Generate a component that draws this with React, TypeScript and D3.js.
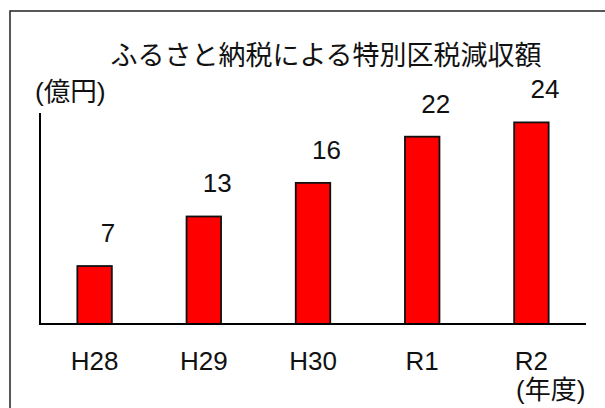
import React from 'react';
import * as d3 from 'd3';

// data
const categories = ['H28', 'H29', 'H30', 'R1', 'R2'];
const values = [6.9, 12.8, 16.8, 22.3, 24.0];
const valueLabels = ['7', '13', '16', '22', '24'];

const title = 'ふるさと納税による特別区税減収額';
const yUnit = '(億円)';
const xUnit = '(年度)';

const W = 605;
const H = 408;
const FONT = '"Liberation Sans", Arial, "Noto Sans CJK JP", sans-serif';

const App = () => {
  const x = d3.scaleBand<string>().domain(categories).range([40, 586]).padding(0);
  const y = d3.scaleLinear().domain([0, 25]).range([324, 114]);
  const barW = 34.5;
  // value labels sit a little right of the bar centre in the original
  const labelShift = 13.5;

  return (
    <svg
      width={W}
      height={H}
      style={{ position: 'absolute', left: 0, top: 0, background: '#fff' }}
      fontFamily={FONT}
    >
      {/* outer frame, runs past the right and bottom edge */}
      <rect x={10} y={11} width={640} height={440} fill="#fff" stroke="#222" strokeWidth={1.5} />

      <text x={326} y={65} textAnchor="middle" fontSize={27} fill="#111">
        {title}
      </text>
      <text x={35} y={101} fontSize={26.5} fill="#111">
        {yUnit}
      </text>

      {categories.map((c, i) => {
        const cx = (x(c) ?? 0) + x.bandwidth() / 2;
        return (
          <g key={c}>
            <rect
              x={cx - barW / 2}
              y={y(values[i])}
              width={barW}
              height={y(0) - y(values[i])}
              fill="#ff0000"
              stroke="#111"
              strokeWidth={1.8}
            />
            <text
              x={cx + labelShift}
              y={y(values[i]) - 24}
              textAnchor="middle"
              fontSize={26}
              fill="#111"
            >
              {valueLabels[i]}
            </text>
            <text x={cx} y={370} textAnchor="middle" fontSize={26} fill="#111">
              {c}
            </text>
          </g>
        );
      })}

      {/* axes */}
      <line x1={40} x2={40} y1={113} y2={325} stroke="#000" strokeWidth={2} />
      <line x1={39} x2={586} y1={324} y2={324} stroke="#000" strokeWidth={2} />

      <text x={516} y={399} fontSize={26} fill="#111">
        {xUnit}
      </text>
    </svg>
  );
};

export default App;
